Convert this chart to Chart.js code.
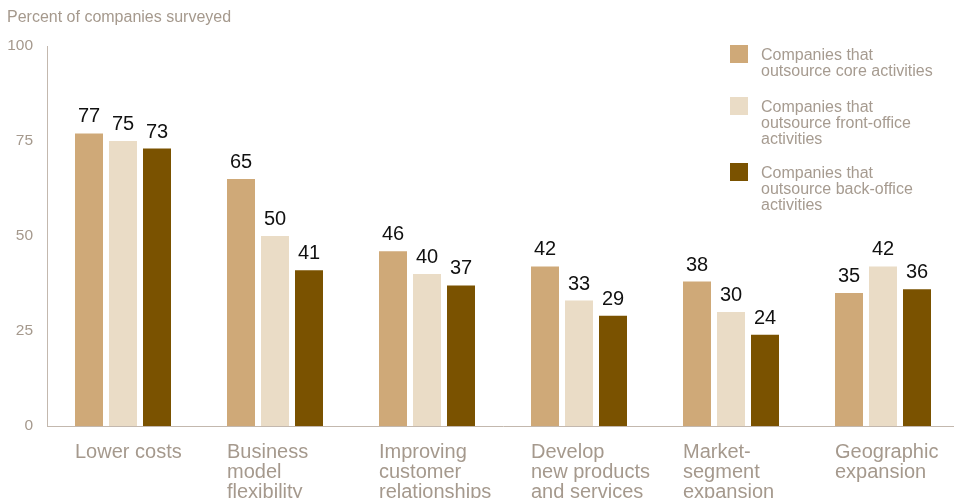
<!DOCTYPE html>
<html>
<head>
<meta charset="utf-8">
<script src="https://cdn.jsdelivr.net/npm/chart.js@4/dist/chart.umd.min.js"></script>
<style>
  html, body { margin: 0; padding: 0; overflow: hidden; background: #fff; }
  #wrap { position: relative; width: 960px; height: 498px; }
  #legend { position: absolute; left: 0; top: 0; font-family: "Liberation Sans", Arial, Helvetica, sans-serif; font-size: 16px; line-height: 16px; color: #a69b90; }
  .item { position: absolute; left: 730px; width: 220px; }
  .sw { position: absolute; left: 0; top: 0; width: 18px; height: 18px; }
  .tx { position: absolute; left: 31px; top: 2px; width: 200px; }
</style>
</head>
<body>
<div id="wrap">
  <canvas id="c" width="960" height="498"></canvas>
  <div id="legend"></div>
</div>
<script>
const categories = [
  ["Lower costs"],
  ["Business", "model", "flexibility"],
  ["Improving", "customer", "relationships"],
  ["Develop", "new products", "and services"],
  ["Market-", "segment", "expansion"],
  ["Geographic", "expansion"]
];
const seriesNames = [
  ["Companies that", "outsource core activities"],
  ["Companies that", "outsource front-office", "activities"],
  ["Companies that", "outsource back-office", "activities"]
];
const coreValues = [77, 65, 46, 42, 38, 35];
const frontOfficeValues = [75, 50, 40, 33, 30, 42];
const backOfficeValues = [73, 41, 37, 29, 24, 36];
const yTicks = [0, 25, 50, 75, 100];
const colors = ["#cfa978", "#eadcc6", "#7a5200"];

const textColor = "#a5998d";
const axisColor = "#c3b8ae";
const fontFamily = '"Liberation Sans", Arial, Helvetica, sans-serif';

// HTML legend
const legendTops = [45, 97, 163];
const legendEl = document.getElementById('legend');
seriesNames.forEach((lines, i) => {
  const item = document.createElement('div');
  item.className = 'item';
  item.style.top = legendTops[i] + 'px';
  const sw = document.createElement('div');
  sw.className = 'sw';
  sw.style.background = colors[i];
  const tx = document.createElement('div');
  tx.className = 'tx';
  tx.innerHTML = lines.join('<br>');
  item.appendChild(sw);
  item.appendChild(tx);
  legendEl.appendChild(item);
});

const valueLabels = {
  id: 'valueLabels',
  afterDatasetsDraw(chart) {
    const ctx = chart.ctx;
    ctx.save();
    ctx.font = '20px ' + fontFamily;
    ctx.fillStyle = '#111111';
    ctx.textAlign = 'center';
    ctx.textBaseline = 'alphabetic';
    chart.data.datasets.forEach((ds, di) => {
      const meta = chart.getDatasetMeta(di);
      meta.data.forEach((bar, i) => {
        ctx.fillText(String(ds.data[i]), bar.x, bar.y - 11);
      });
    });
    ctx.restore();
  }
};

new Chart(document.getElementById('c'), {
  type: 'bar',
  data: {
    labels: categories,
    datasets: [
      { label: seriesNames[0].join(' '), data: coreValues, backgroundColor: colors[0] },
      { label: seriesNames[1].join(' '), data: frontOfficeValues, backgroundColor: colors[1] },
      { label: seriesNames[2].join(' '), data: backOfficeValues, backgroundColor: colors[2] }
    ]
  },
  options: {
    responsive: false,
    animation: false,
    layout: { padding: { left: 7, right: 1, top: 0, bottom: 0 } },
    datasets: { bar: { barPercentage: 28 / 34, categoryPercentage: 102 / 152 } },
    plugins: {
      legend: { display: false },
      tooltip: { enabled: false },
      title: {
        display: true,
        text: 'Percent of companies surveyed',
        align: 'start',
        color: textColor,
        font: { family: fontFamily, size: 16, weight: 'normal' },
        padding: { top: 8, bottom: 18.8 }
      }
    },
    scales: {
      x: {
        grid: { display: false, drawTicks: false },
        border: { display: true, color: axisColor, width: 1 },
        ticks: {
          color: textColor,
          font: { family: fontFamily, size: 20, lineHeight: 1 },
          align: 'start',
          labelOffset: -48,
          padding: 16,
          autoSkip: false,
          maxRotation: 0,
          minRotation: 0
        },
        afterFit(scale) {
          scale.height = 72;
          scale.paddingLeft = 0;
          scale.paddingRight = 0;
        }
      },
      y: {
        min: 0,
        max: 100,
        grid: { display: false, drawTicks: false },
        border: { display: true, color: axisColor, width: 1 },
        afterBuildTicks(scale) { scale.ticks = yTicks.map(v => ({ value: v })); },
        ticks: {
          color: textColor,
          font: { family: fontFamily, size: 15.5 },
          padding: 14
        },
        afterFit(scale) {
          scale.width = 40;
          scale.paddingTop = 0;
          scale.paddingBottom = 0;
        }
      }
    }
  },
  plugins: [valueLabels]
});
</script>
</body>
</html>
